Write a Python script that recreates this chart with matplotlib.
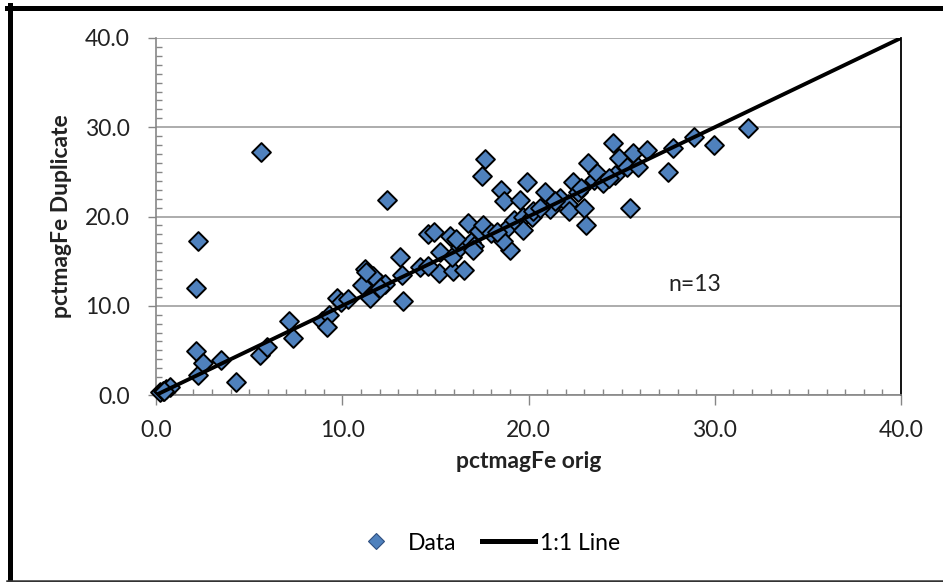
import matplotlib
matplotlib.use("Agg")
import matplotlib.pyplot as plt
from matplotlib.ticker import MultipleLocator, FormatStrFormatter
from matplotlib.lines import Line2D

plt.rcParams['font.family'] = ['Lato', 'DejaVu Sans']

orig = [0.2, 0.35, 0.55, 0.75, 0.45,
        2.15, 2.25, 2.5, 3.5, 4.3,
        2.25, 2.15, 5.65, 12.4,
        5.6, 5.95, 7.15, 7.35, 8.9, 9.3, 9.2, 9.7, 9.95,
        11.2, 11.05, 11.5, 12.0, 12.3, 11.65, 11.3,
        13.1, 13.2, 13.25, 14.2, 14.6, 14.9,
        15.2, 15.25, 15.8, 15.95, 15.9, 16.55, 16.3, 16.75, 16.9, 17.1, 17.35, 17.55,
        17.65, 17.5, 18.0, 18.5, 18.7, 18.9, 19.0, 18.65, 19.2, 19.55, 19.9, 19.7,
        20.2, 20.25, 19.7, 16.1, 17.0, 18.3,
        20.9, 21.15, 21.7, 22.1, 22.2, 22.4, 22.65, 23.0, 23.1, 23.2, 23.5, 23.7,
        24.0, 24.55, 24.85, 24.65, 25.3, 25.45, 25.6, 25.9, 26.35, 27.5, 27.75,
        28.9, 29.95, 31.8, 20.6, 21.4, 22.8, 24.3, 14.6, 12.0, 10.3]
dup = [0.3, 0.5, 0.7, 0.9, 0.4,
       4.9, 2.2, 3.6, 3.9, 1.5,
       17.2, 12.0, 27.2, 21.8,
       4.5, 5.4, 8.3, 6.4, 8.3, 9.0, 7.6, 10.9, 10.4,
       14.1, 12.3, 10.9, 12.6, 12.4, 13.3, 13.8,
       15.5, 13.5, 10.5, 14.3, 18.0, 18.3,
       13.7, 16.0, 17.8, 13.9, 15.5, 14.0, 16.6, 19.3, 17.1, 16.7, 18.4, 19.0,
       26.4, 24.5, 18.1, 23.0, 21.7, 18.8, 16.2, 17.2, 19.6, 21.8, 23.9, 20.0,
       20.0, 20.6, 18.5, 17.5, 16.3, 18.3,
       22.7, 20.8, 22.1, 21.4, 20.6, 23.9, 22.7, 21.0, 19.0, 26.0, 24.1, 24.9,
       23.8, 28.2, 26.6, 24.6, 25.5, 21.0, 27.1, 25.5, 27.5, 25.0, 27.7,
       28.9, 28.0, 29.9, 21.0, 21.7, 23.2, 24.3, 14.5, 12.0, 10.8]
line_x = [0, 40]
line_y = [0, 40]

W, H = 943, 582
fig = plt.figure(figsize=(W / 100, H / 100), dpi=100)
ax = fig.add_axes([156 / W, 1 - 395 / H, (901 - 156) / W, (395 - 38) / H])

axis_gray = '#868686'
txt = '#222222'
FS = 16.5
ax.set_xlim(0, 40)
ax.set_ylim(0, 40)
ax.xaxis.set_major_locator(MultipleLocator(10))
ax.xaxis.set_minor_locator(MultipleLocator(1))
ax.yaxis.set_major_locator(MultipleLocator(10))
ax.yaxis.set_minor_locator(MultipleLocator(1))
ax.xaxis.set_major_formatter(FormatStrFormatter('%.1f'))
ax.yaxis.set_major_formatter(FormatStrFormatter('%.1f'))
ax.grid(axis='y', which='major', color='#a6a6a6', linewidth=1.3)
ax.set_axisbelow(True)

ax.tick_params(which='major', direction='out', width=1, color=axis_gray,
               labelsize=FS, labelcolor=txt)
ax.tick_params(axis='x', which='major', length=7, pad=11)
ax.tick_params(axis='y', which='major', length=6, pad=13)
ax.tick_params(which='minor', direction='in', length=4, width=1, color=axis_gray)
for s in ['left', 'bottom']:
    ax.spines[s].set_color(axis_gray)
    ax.spines[s].set_linewidth(1.2)
ax.spines['top'].set_visible(False)
ax.spines['right'].set_color('black')
ax.spines['right'].set_linewidth(1.3)

ax.scatter(orig, dup, marker='D', s=92, facecolor='#4f81bd', edgecolor='black',
           linewidth=1.4, zorder=3, clip_on=False)
ax.plot(line_x, line_y, color='black', linewidth=2.8, zorder=4, solid_capstyle='butt')

ax.text(28.9, 12.4, 'n=13', fontsize=FS, ha='center', va='center', color=txt)

fig.text(528.5 / W, 1 - 462 / H, 'pctmagFe orig', fontsize=FS, fontweight='bold',
         ha='center', va='center', color=txt)
fig.text(62 / W, 1 - 216.5 / H, 'pctmagFe Duplicate', fontsize=FS, fontweight='bold',
         ha='center', va='center', rotation=90, color=txt)

handles = [Line2D([], [], marker='D', linestyle='none', markerfacecolor='#4f81bd',
                  markeredgecolor='#2f4f7f', markersize=8.5, markeredgewidth=0.8),
           Line2D([], [], color='black', linewidth=3.6)]
fig.legend(handles, ['Data', '1:1 Line'], loc='center', bbox_to_anchor=(485 / W, 1 - 543 / H),
           ncol=2, frameon=False, fontsize=FS, handlelength=2.3, columnspacing=1.1,
           handletextpad=0.25, borderpad=0.2)

# outer frame
fig.add_artist(Line2D([9.5 / W, 9.5 / W], [1 / H, 1 - 5 / H], transform=fig.transFigure,
                      color='black', linewidth=3.6))
fig.add_artist(Line2D([7 / W, 1], [1 - 7.5 / H, 1 - 7.5 / H], transform=fig.transFigure,
                      color='black', linewidth=3.6))
fig.add_artist(Line2D([7 / W, 1], [1.5 / H, 1.5 / H], transform=fig.transFigure,
                      color='#333333', linewidth=1.8))

fig.savefig('out.png', dpi=100)
